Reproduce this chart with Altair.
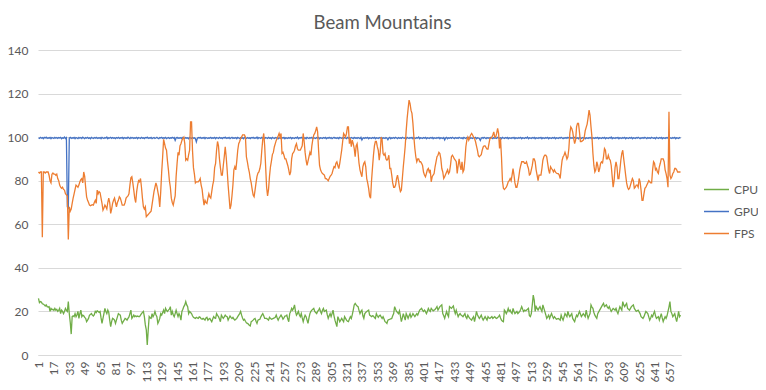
import altair as alt
import pandas as pd

title_text = "Beam Mountains"
series_names = ["CPU", "GPU", "FPS"]
series_colors = ["#70AD47", "#4472C4", "#ED7D31"]
y_ticks = [0, 20, 40, 60, 80, 100, 120, 140]
x_ticks = [1, 17, 33, 49, 65, 81, 97, 113, 129, 145, 161, 177, 193, 209, 225, 241,
           257, 273, 289, 305, 321, 337, 353, 369, 385, 401, 417, 433, 449, 465, 481,
           497, 513, 529, 545, 561, 577, 593, 609, 625, 641, 657]

fps_a = [84, 83.5, 84, 84, 54, 84, 84, 83.5, 84, 84, 84, 82.5, 80, 79,
         83, 83.5, 83, 83, 82.5, 83, 81, 80, 78, 77, 76.5, 77, 76, 75.7, 74, 73.5,
         73, 53, 68, 66, 67, 69.6, 72, 74, 76, 78, 77.5,
         77, 78, 79.5, 80.5, 81, 79, 84, 82, 77,
         72.6, 71, 70, 68.8, 68.5, 68.8, 69, 68.8, 70, 71, 69.6, 75.7, 74,
         75, 74.5, 72, 69.6, 66.5, 67.5, 68.8, 68, 67, 70, 72, 70,
         65, 67, 69.6, 71, 72, 70, 68, 70, 71, 72.6, 72, 70.5,
         68.8, 68.8, 68.8, 70, 72, 72.6, 73, 74, 78, 81.3,
         81.8, 79, 75.7, 72, 70, 75, 78, 80, 79.5]
fps_b = [81, 77, 72, 68, 67, 68, 63.5, 64, 64.5, 65,
         65.5, 66, 69, 72, 75, 77, 79, 77.5, 75, 72.6,
         68, 75, 84, 91, 99, 97, 95, 94, 89, 85,
         80, 77, 72, 70, 68.8, 71, 73, 82, 88, 93,
         91.7, 96, 97, 98.5, 99.4, 100, 97, 89.4, 90, 89.4,
         92, 94, 107, 107, 94, 86, 83, 79, 79.5, 79.5,
         79.5, 80, 81, 78, 76, 72, 68.8, 71, 70, 69.6,
         72, 74, 72.6, 72, 75, 78, 80, 86, 88, 94,
         98, 96, 90, 86, 82.6, 82.6, 87, 91, 95.6, 91,
         85, 78, 72.6, 67, 68.8, 73, 78, 85, 86.4, 85,
         89, 94, 97, 98, 99.4, 100, 101, 101, 101, 100,
         91, 88.7, 86, 84, 81, 79, 76, 73.4, 72.6, 75.7]
fps_c = [79, 82, 83.5, 84, 85.6, 88, 94, 99, 101.7, 96,
         86.4, 77, 73, 76, 82, 86.4, 89, 92, 93, 95.5,
         97, 98.5, 99.4, 100.5, 101.7, 100, 101.7, 92.5, 93, 91.7,
         90, 90, 88.5, 87, 85, 82.6, 84, 90, 92.5, 93,
         94, 96, 97, 94.8, 94, 94, 94, 95, 96, 101.7,
         98, 93, 89.4, 87, 89, 91, 93, 91.7, 96, 99,
         101, 101.7, 103, 104.7, 102.4, 94, 87, 85, 84, 83.3,
         83, 82.6, 81, 81, 80.5, 80, 81, 82, 82.6, 83.3,
         85, 86.4, 86, 88, 88.7, 87, 85.6, 88, 91, 94,
         98, 101.7, 101, 100, 101.7, 104.7, 104.7, 97, 99.4, 95.6,
         98.6, 97, 94.8, 91, 96, 97, 93, 88, 85, 83.3,
         81.8, 86.4, 88, 88.7]
fps_d = [86.4, 81, 79, 76.5, 73, 72, 80, 86, 91.7, 96,
         98, 98, 95.6, 94, 89.4, 93, 100, 98.6, 92.5, 91.7,
         92.5, 90, 89.4, 90, 91.7, 85.6, 85.6, 82.6, 79, 77,
         77, 78, 81, 82.6, 80, 77, 75, 75.7, 81, 86.4,
         91, 96, 103, 108.6, 113, 117, 115.4, 112.4, 110.9, 106.3,
         100, 94.8, 91, 88.7, 90, 90, 88.7, 88.7, 88, 87,
         84, 82.6, 81.8, 83.3, 85, 85.6, 84, 85, 79.5, 81.8,
         82.6, 83.3, 86.4, 88.7, 91, 91.7, 93, 92.5, 90, 85.6,
         84, 81, 81.8, 83, 84, 85, 83.3, 84, 87, 91,
         91.7, 91, 90, 89.4, 88.7, 83.3, 87, 90, 87, 85,
         88.7, 84, 85, 89.4, 95.6, 98.6, 100, 98.6, 100, 101,
         101.7, 101, 100, 99.4]
fps_e = [98, 96, 94, 91.5, 91, 91.5, 92, 94, 95.5, 96,
         96, 95.2, 94.5, 94.5, 97, 99.4, 99.4, 100, 101, 102.4,
         100, 100, 101.7, 104, 101.7, 94.8, 99.4, 91, 80, 76.5,
         76, 76.5, 77, 78, 79.5, 80, 81, 80, 82.6, 85.6,
         82.6, 79, 77, 77, 79, 81.8, 85, 87, 88.7, 88.7,
         88.7, 88, 88, 88.7, 87, 85.6, 82.6, 83, 85, 87,
         90, 90, 88.7, 85, 82.6, 80, 82.6, 82.6, 82.6, 85.6,
         89.4, 91, 91.7, 91.7, 91, 88, 85, 83.3, 86.4, 85.6,
         85, 84, 85, 84, 83.5, 83.3, 83.3, 82.6, 81, 85.6,
         89.4, 91, 91.7, 93, 91.7, 90, 91, 94.8, 101.7, 104.7,
         104, 102.4, 99.4, 97, 98.6, 104.7, 106.3, 106.3, 102.4, 98,
         98, 98.3, 98.6, 100]
fps_f = [103, 104.5, 106, 109, 112.4, 110, 104.7, 100, 92.5, 87,
         84, 85, 88.7, 87, 84, 85.6, 88, 88.7, 88.2, 91,
         94.8, 94, 90, 90, 91.7, 90, 89.4, 87, 82, 77,
         80, 86, 88.7, 86.4, 81, 81, 85, 89.4, 92.5, 94,
         90, 86.4, 82.6, 79, 77, 76, 76.5, 78, 79.5, 81,
         80, 76.5, 77, 78, 78, 77, 81, 79.5, 75.7, 71,
         71, 74, 76.5, 77, 78, 79, 80, 79.5, 79, 79,
         85, 88.7, 88, 85, 85.6, 84, 83.3, 86.4, 88, 90,
         90, 90, 88.7, 85, 83.3, 81, 77, 111.6, 82.6, 81,
         81.8, 83.3, 84, 85.6, 85.6, 85, 84, 84, 84, 84]

cpu_a = [26, 24, 24.5, 24.3, 23.5, 23.4, 23, 22.5, 23, 22.2,
         22, 22.2, 20, 21.4, 20.8, 21, 20.5, 21.4, 20.6, 21,
         20, 20.5, 21.4, 19, 20.6, 20, 19, 20, 21.4, 20.5,
         20, 24.5, 19, 15, 9.6, 17.6, 18, 17.6, 19, 17.6,
         18.5, 20, 16.8, 19, 20.6, 17.6, 18.3, 18, 17.3, 16.8,
         15.3, 16, 16.8, 18.3, 18.6, 19, 18.3, 17.9, 18.5, 20,
         19.5, 20.3, 20, 19.6, 20, 17, 14.5, 16.8, 19, 21.4,
         20, 19, 20.6, 19.5, 16, 13, 15.3, 16.8, 16.5, 16,
         14.5, 16, 17.5, 19, 18.6, 18.3, 16, 14.5, 15.3, 16,
         16.8, 16.5, 16, 16.8, 17.5, 19, 20.6, 16.8, 17.5, 18.3,
         17.6, 18, 17.6, 17.9, 17.6, 17.6, 18.3, 19, 19.5, 20,
         17.6, 13.8, 11.5, 4.6, 11.5, 17.6, 17, 16.8, 19, 17.6,
         18.5, 20, 18.5, 17.6, 14.5, 15.5, 16.8, 19, 18.3, 19.5,
         20.6, 19, 21.4, 20.5, 20, 20.6, 21, 22.2, 18.3, 20,
         18.5, 17.6, 19, 20.6, 19, 17.6, 19, 18, 16, 20,
         21, 22.2, 23, 24.5, 23, 22.2, 19, 20]
cpu_b = [19.5, 19, 18, 17.3, 17, 16.8, 17.3, 17, 16.8, 17.5,
         17.3, 16.6, 16.4, 16.8, 16.5, 16, 17, 17.3, 16, 16.5,
         16.8, 16, 15.3, 16.5, 17.6, 17, 16.8, 19, 18.2, 17.6,
         16.5, 15.3, 18.3, 17.5, 16.8, 17.5, 18.3, 17.8, 17.6, 16,
         17, 17.9, 17.3, 16.8, 17.3, 16.5, 16, 16.4, 16.8, 17.6,
         18.3, 19, 20, 18.3, 17, 16, 16.4, 15.5, 14.8, 14.5,
         14.2, 13.6, 13.3, 15.3, 15.6, 16, 16.5, 16.8, 15.5, 14.5,
         16, 16.2, 16.4, 17.5, 18.3, 19, 18, 16.8, 16.8, 16.8,
         16.4, 16, 17.3, 16.8, 16.4, 16.6, 16.8, 17, 17.3, 18.3,
         17, 16, 17, 17.6, 18.3, 17.5, 16.4, 17, 17.9, 18,
         18.3, 16.5, 15.3, 19, 20, 21.4, 20.6, 21.5, 23, 20,
         18.3, 19, 20, 18.5, 17.6, 19, 17, 15.3, 17, 18.3,
         17.6, 16, 14.5, 17, 19, 20, 20.6, 21, 21.4, 20,
         19.5, 19, 20, 20.6, 21.4, 20, 19, 20.5, 21.4, 20,
         20.3, 20.6, 18.5, 16.8, 18, 19, 17.6, 19, 20.6, 18,
         16, 14.5, 13, 17.6, 16.5, 15.3, 16, 16.8, 16, 15.3,
         17.6, 16.8, 16, 15.5, 15.3, 16.5, 17.6, 16.8, 18.5, 20.6,
         23]
cpu_c = [23.7, 23, 22.5, 22.2, 20.5, 19, 20, 20.6, 18, 16.8,
         19, 19.5, 20, 20.3, 20.6, 18.3, 18, 17.6, 18, 17.9,
         17.2, 16.8, 19, 18, 17.3, 18, 18.3, 17.5, 16.8, 17.6,
         16.5, 15.3, 15, 14.5, 16, 16.2, 16.4, 16.6, 16.8, 18,
         19, 22.2, 21, 20, 19.5, 19, 20.3, 18, 15.3, 17,
         19, 17.5, 16, 19, 18, 16.8, 18, 19, 17.3, 18,
         19, 18.3, 17.6, 18.3, 19, 18.3, 19.5, 20.6, 21, 21.4,
         20.5, 20, 20.6, 20, 19, 20, 21.4, 20.5, 20, 21.4,
         20.8, 20.3, 20.6, 20.9, 21.5, 22.2, 20.6, 21.4, 22.2, 22.6,
         23, 19, 18, 16.8, 18.5, 20, 18.5, 17.6, 22.2, 21.8,
         21.4, 22, 22.5, 20.5, 19, 20.6, 19, 17.6, 18.5, 19,
         18.3, 18, 17.6, 18.3, 19, 17.5, 16.8, 18.3, 17.5, 16.8,
         16.4, 16, 17, 17.6, 15.3, 17.5, 20, 18.5, 17.6, 16.8,
         17.5, 18.3, 17, 16, 16.8, 17.6, 16.8, 16, 17.6, 17,
         16.8, 17.2, 17.6, 16.8, 17.2, 17.6, 17, 16.8, 17.2, 17.6,
         18.3, 17, 16, 15.5, 15.3, 20.6, 20, 19, 20, 21.4,
         20]
cpu_d = [20.6, 19.5, 19, 21.4, 20, 19, 19.5, 20, 19, 19.5,
         20, 21, 22.2, 21, 20, 20.6, 20.3, 20.6, 21, 21.4,
         18, 17.6, 19, 23, 27.5, 25.2, 20, 22.2, 21.4, 20.6,
         21.5, 22.2, 21, 20, 23, 21.5, 20, 18.5, 16.8, 17.5,
         18.3, 16.8, 18, 19, 17.8, 16.8, 17.6, 17, 16.4, 16.6,
         16.8, 16.4, 16, 18.3, 17, 16, 17.5, 19, 18.3, 17.6,
         20, 18.5, 17.6, 18.3, 19, 16.8, 16, 15.3, 17, 18.3,
         17.6, 18.8, 20, 18.8, 17.6, 18.3, 19, 18.3, 17.6, 20.6,
         18.5, 16.8, 18, 19, 23, 22, 21.4, 19.5, 18.3, 17.5,
         16.8, 19, 19.8, 20.6, 21.4, 22.2, 23, 23.7, 22.2, 22.6,
         23, 22, 21.4, 22.2, 21, 20, 20.7, 21.4, 21, 20.6,
         21.4, 20, 19, 20.6, 22.2, 21.4, 20.6, 24.5, 23, 22.2,
         23, 23.7, 21.4, 21, 20.6, 21.4, 22.2, 22.6, 23, 21.4,
         20.7, 20, 20.3, 20.6, 19.8, 19, 17.6, 17.2, 16.8, 17.6,
         18.8, 20, 19.5, 19, 17.5, 16, 17, 18.3, 17.6, 19,
         20, 18, 16.8, 17.2, 17.6, 16, 17.5, 19, 17, 15.3,
         16.5, 17.6, 16.8, 18, 20, 22, 24.5, 20, 19, 17.6,
         18.3, 19, 17, 15.3, 17.5, 20, 17.6, 18.3]

gpu = [
    99.7, 99.4, 99.9, 99.5, 99.8, 99.3, 99.9, 99.6, 100, 99.4, 99.7, 99.5, 99.9, 99.3, 99.8, 99.6, 99.4, 99.9, 99.5, 99.8,
    99.4, 99.8, 99.6, 99.9, 99.3, 99.7, 99.5, 100, 99.4, 99.8, 68, 67.5, 99.6, 99.9, 99.4, 99.7, 99.5, 99.9, 99.3, 99.8,
    99.6, 99.3, 99.9, 99.5, 99.8, 99.4, 100, 99.6, 99.3, 99.8, 99.5, 99.9, 99.4, 99.7, 99.3, 99.9, 99.6, 99.4, 99.8, 99.5,
    99.9, 99.4, 99.7, 99.5, 99.8, 99.3, 99.9, 99.6, 99.4, 99.8, 99.5, 100, 99.3, 99.7, 99.6, 99.9, 99.4, 99.8, 99.5, 99.7,
    99.3, 99.8, 99.5, 99.9, 99.4, 99.7, 99.6, 99.9, 99.3, 99.8, 99.5, 99.7, 99.4, 100, 99.6, 99.3, 99.9, 99.5, 99.8, 99.4,
    99.7, 99.5, 99.9, 99.3, 99.8, 99.6, 99.4, 99.9, 99.5, 99.7, 99.3, 99.8, 99.6, 100, 99.4, 99.7, 99.5, 99.9, 99.3, 99.6,
    99.8, 99.4, 99.6, 99.9, 99.5, 99.3, 99.8, 99.6, 99.9, 99.4, 99.7, 99.5, 99.9, 99.3, 99.6, 99.8, 99.4, 99.7, 99.5, 99.9,
    99.5, 99.8, 98.5, 99.6, 99.9, 99.4, 99.7, 99.5, 99.8, 99.3, 99.9, 99.6, 99.4, 99.8, 99.5, 99.7, 99.3, 99.9, 99.6, 99.4,
    99.8, 99.5, 99.7, 99.3, 97.8, 99.4, 99.8, 99.6, 99.9, 99.4, 99.7, 99.5, 99.9, 99.3, 99.8, 99.6, 99.4, 99.7, 99.5, 99.9,
    99.4, 99.7, 99.5, 99.9, 99.3, 99.8, 99.6, 99.4, 99.9, 99.5, 99.7, 99.3, 99.8, 99.6, 100, 99.4, 99.7, 99.5, 99.9, 99.3,
    99.6, 99.9, 99.4, 99.7, 99.5, 99.8, 99.3, 99.9, 99.6, 99.4, 99.8, 99.5, 99.7, 99.3, 99.9, 99.6, 99.4, 99.8, 99.5, 99.7,
    99.3, 99.8, 99.6, 99.9, 99.4, 99.7, 99.5, 100, 99.3, 99.8, 99.6, 99.4, 99.9, 99.5, 99.7, 99.3, 99.8, 99.6, 99.4, 99.9,
    99.5, 99.7, 99.3, 99.9, 99.6, 99.4, 99.8, 99.5, 99.9, 99.3, 99.7, 99.6, 99.4, 99.8, 99.5, 99.9, 99.3, 99.7, 99.6, 99.4,
    99.8, 99.5, 99.9, 99.3, 99.7, 99.6, 99.4, 99.8, 99.5, 100, 99.3, 99.7, 99.6, 99.9, 99.4, 99.8, 99.5, 99.7, 99.3, 99.9,
    99.6, 99.4, 99.8, 99.5, 99.9, 99.3, 99.7, 99.6, 99.4, 99.8, 99.5, 99.9, 99.3, 99.7, 99.6, 99.4, 99.8, 99.5, 99.9, 99.3,
    99.7, 99.5, 99.9, 99.4, 99.8, 99.3, 99.6, 99.9, 99.5, 99.7, 99.4, 99.8, 99.3, 99.9, 99.6, 99.5, 99.7, 99.4, 99.8, 99.6,
    99.3, 99.9, 99.5, 99.7, 99.4, 99.8, 99.6, 99.3, 99.9, 99.5, 99.7, 99.4, 99.8, 99.6, 99.3, 99.9, 98.7, 99.5, 99.7, 99.4,
    99.8, 99.5, 99.9, 99.3, 99.7, 99.6, 99.4, 99.8, 99.5, 99.9, 99.3, 99.7, 99.6, 99.4, 99.8, 99.5, 99.9, 99.3, 99.7, 99.6,
    99.4, 99.8, 99.5, 98.8, 99.6, 99.9, 99.3, 99.7, 99.5, 99.8, 99.4, 99.9, 99.6, 99.3, 99.8, 99.5, 99.7, 99.4, 99.9, 99.6,
    99.5, 99.7, 99.3, 99.9, 99.6, 99.4, 99.8, 99.5, 99.9, 99.3, 99.7, 99.6, 99.4, 99.8, 99.5, 100, 99.3, 99.7, 99.6, 99.4,
    99.8, 99.5, 99.9, 99.3, 99.7, 99.6, 99.4, 99.8, 99.5, 99.9, 99.3, 99.7, 99.6, 99.4, 99.8, 99.5, 99.9, 99.3, 99.7, 99.6,
    99.4, 99.8, 98.7, 99.6, 99.9, 99.3, 99.7, 99.5, 99.8, 99.4, 99.9, 99.6, 99.3, 99.8, 99.5, 99.7, 99.4, 99.9, 99.6, 99.5,
    99.7, 99.3, 99.9, 99.6, 99.4, 99.8, 99.5, 99.9, 99.3, 99.7, 99.6, 99.4, 99.8, 99.5, 99.9, 99.3, 99.7, 99.6, 99.4, 98.5,
    99.5, 99.8, 99.4, 99.9, 99.6, 99.3, 99.8, 99.5, 99.7, 99.4, 99.9, 99.6, 99.3, 99.8, 99.5, 99.7, 99.4, 99.9, 99.6, 99.5,
    99.7, 99.3, 99.9, 99.6, 99.4, 99.8, 99.5, 99.9, 99.3, 99.7, 99.6, 99.4, 99.8, 99.5, 99.9, 99.3, 99.7, 99.6, 99.4, 99.8,
    99.5, 99.9, 99.3, 99.7, 99.6, 99.4, 99.8, 99.5, 100, 99.3, 99.7, 99.6, 99.4, 99.8, 99.5, 99.9, 99.3, 99.7, 99.6, 99.4,
    99.8, 99.5, 99.9, 99.3, 99.7, 99.6, 99.4, 99.8, 99.5, 99.9, 99.3, 99.7, 99.6, 99.4, 99.8, 99.5, 99.9, 99.3, 99.7, 99.6,
    99.4, 99.8, 99.5, 99.9, 99.6, 99.3, 99.7, 99.5, 99.8, 99.4, 99.9, 99.6, 99.3, 99.8, 99.5, 99.7, 99.4, 99.9, 99.6, 99.5,
    99.7, 99.3, 99.9, 99.6, 99.4, 99.8, 99.5, 99.9, 99.3, 99.7, 99.6, 99.4, 99.8, 99.5, 99.9, 99.3, 99.7, 99.6, 99.4, 99.8,
    99.5, 99.9, 99.3, 99.7, 99.6, 99.4, 99.8, 99.5, 99.9, 99.3, 99.7, 99.6, 99.4, 99.8, 99.5, 100, 99.3, 99.7, 99.6, 99.4,
    99.8, 99.5, 99.9, 99.3, 99.7, 99.6, 99.4, 99.8, 99.5, 99.9, 99.3, 99.7, 99.6, 99.4, 99.8, 99.5, 99.9, 99.3, 99.7, 99.6,
    99.4, 99.8, 99.5, 99.9, 99.6, 99.3, 99.7, 99.5, 99.8, 99.4, 99.9, 99.6, 99.3, 99.8, 99.5, 99.7, 99.4, 99.9, 99.6, 99.5,
    99.7, 99.3, 99.9, 99.6, 99.4, 99.8, 99.5, 99.9, 99.3, 99.7, 99.6, 99.4, 99.8, 99.5, 99.9, 99.3, 99.7, 99.6, 99.4, 99.8,
    99.5, 99.9, 99.3, 99.7, 99.6, 99.4, 99.8, 99.5,
]

fps = fps_a + fps_b + fps_c + fps_d + fps_e + fps_f
cpu = cpu_a + cpu_b + cpu_c + cpu_d

lens = {"fps": len(fps), "cpu": len(cpu), "gpu": len(gpu)}
if not (len(fps) == len(cpu) == len(gpu)):
    raise SystemExit("LENGTHS " + str(lens))

n = len(fps)
rows = []
for name, vals in zip(series_names, [cpu, gpu, fps]):
    for i, v in enumerate(vals, start=1):
        rows.append({"sample": i, "value": v, "series": name})
df = pd.DataFrame(rows)

FONT = "Lato"
GREY = "#595959"
GRID = "#D9D9D9"

x_enc = alt.X(
    "sample:Q",
    scale=alt.Scale(domain=[0.5, n + 0.5], nice=False, zero=False),
    axis=alt.Axis(values=x_ticks, labelAngle=-90, format="d", grid=False, ticks=False,
                  domain=True, domainColor=GRID, domainWidth=1, labelColor=GREY,
                  labelFontSize=12, labelFont=FONT, labelPadding=6, title=None,
                  labelOverlap=False),
)
y_enc = alt.Y(
    "value:Q",
    scale=alt.Scale(domain=[0, 140], nice=False),
    axis=alt.Axis(values=y_ticks, grid=True, gridColor=GRID, gridWidth=1, domain=False,
                  ticks=False, labelColor=GREY, labelFontSize=12, labelFont=FONT,
                  labelPadding=10, title=None),
)
color_enc = alt.Color(
    "series:N",
    scale=alt.Scale(domain=series_names, range=series_colors),
    legend=alt.Legend(title=None, orient="none", legendX=665, legendY=126,
                      symbolType="stroke", symbolSize=625, symbolStrokeWidth=1.5,
                      labelFontSize=12, labelFont=FONT, labelColor=GREY,
                      rowPadding=2, padding=0, labelOffset=4),
)

layers = [
    alt.Chart(df).transform_filter(alt.datum.series == s)
    .mark_line(strokeWidth=1.3)
    .encode(x=x_enc, y=y_enc, color=color_enc)
    for s in series_names
]

chart = alt.layer(*layers).properties(
    width=643,
    height=305,
    autosize=alt.AutoSizeParams(type="none"),
    padding={"left": 30, "top": 42, "right": 77, "bottom": 27},
    title=alt.TitleParams(text=title_text, fontSize=18.6, font=FONT, color=GREY,
                          fontWeight="normal", anchor="middle", frame="group",
                          dx=23, offset=11),
).configure_view(stroke=None)

chart.save("out.html", embed_options={"renderer": "svg", "actions": False})
